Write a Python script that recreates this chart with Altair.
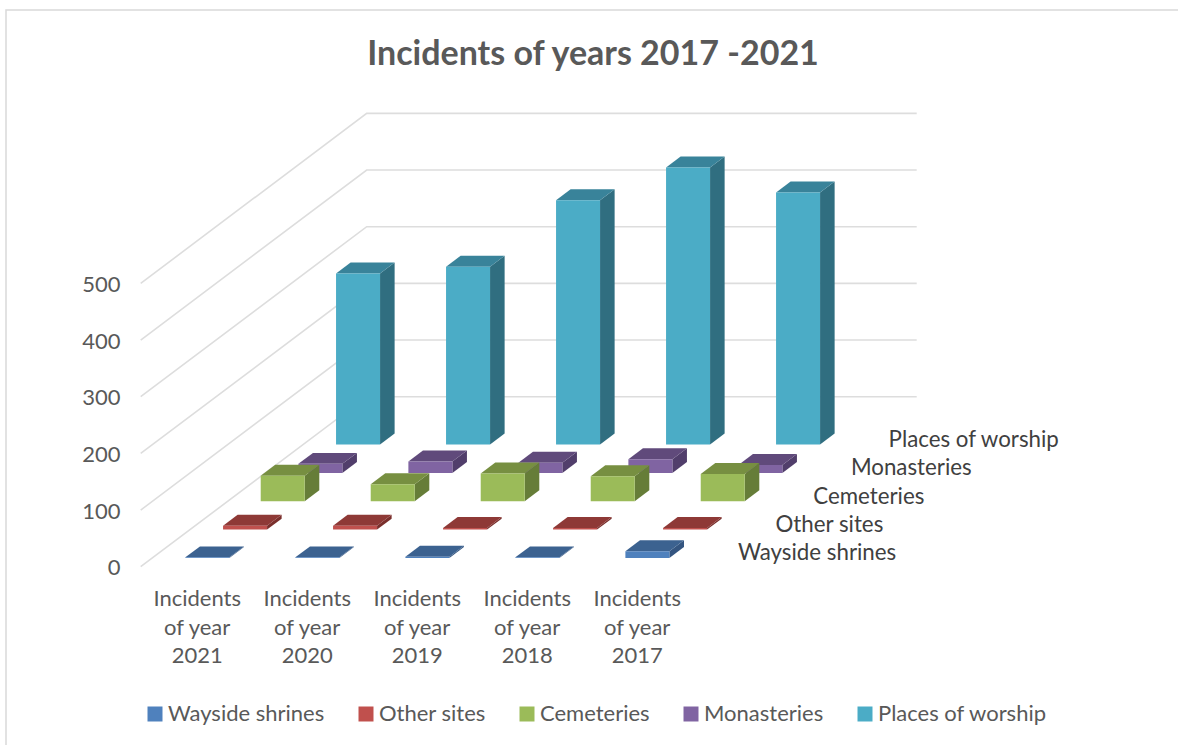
import altair as alt
import pandas as pd

# Incident counts per site type and year
YEARS = ["2021", "2020", "2019", "2018", "2017"]
SERIES = ["Wayside shrines", "Other sites", "Cemeteries", "Monasteries", "Places of worship"]
WAYSIDE = [1, 1, 2, 1, 12]
OTHER = [7, 7, 3, 3, 3]
CEMETERIES = [45, 30, 49, 44, 48]
MONASTERIES = [16, 20, 18, 24, 14]
WORSHIP = [302, 314, 431, 489, 445]
VALUES = [WAYSIDE, OTHER, CEMETERIES, MONASTERIES, WORSHIP]

FRONT = ["#4F81BD", "#C0504D", "#9BBB59", "#8064A2", "#4BACC6"]
TOP = ["#3C6290", "#8E3936", "#778F41", "#604A7B", "#39839A"]
SIDE = ["#345580", "#7A2F2C", "#667D38", "#513E6B", "#306E80"]

LEVELS = [0, 100, 200, 300, 400, 500]

# Oblique projection: one depth step moves right (in category widths) and up (in incident units)
DEPTH_X = 0.3424
DEPTH_Y = 50
WALL_DEPTH = 6
BAR_WIDTH = 0.40
BAR_DEPTH = 0.387
FONT = "Lato"
TEXT = "#595959"

LEFT, TOP_PAD = 128, 90
W, H = 1050, 655
x_scale = alt.Scale(domain=[-0.1155, 9.4297], nice=False, zero=False)
y_scale = alt.Scale(domain=[-314.6, 841.2], nice=False, zero=False)
X = alt.X("x:Q", scale=x_scale, axis=None, stack=None)
Y = alt.Y(
    "y:Q",
    scale=y_scale,
    stack=None,
    axis=alt.Axis(
        values=LEVELS, grid=False, ticks=False, domain=False, title=None,
        labelFont=FONT, labelFontSize=22, labelColor=TEXT, labelPadding=8, labelOffset=1,
    ),
)

# Back wall and left wall gridlines
grid_rows = []
for level in LEVELS:
    wall_x = WALL_DEPTH * DEPTH_X
    wall_y = level + WALL_DEPTH * DEPTH_Y
    for k, (gx, gy) in enumerate([(0, level), (wall_x, wall_y), (wall_x + 5, wall_y)]):
        grid_rows.append({"level": level, "k": k, "x": gx, "y": gy})

grid = alt.Chart(pd.DataFrame(grid_rows)).mark_line(color="#DDDDDD", strokeWidth=1.6).encode(
    x=X, y=Y, detail="level:N", order="k:Q"
)

color_scale = alt.Scale(domain=SERIES, range=FRONT)
legend = alt.Legend(
    orient="none", direction="horizontal", columns=5, title=None,
    legendX=16, legendY=613,
    symbolType="square", symbolSize=225, symbolStrokeWidth=0, symbolOpacity=1,
    labelFont=FONT, labelFontSize=22, labelColor=TEXT, labelOffset=2,
    columnPadding=30, labelLimit=300,
)

layers = [grid]

# Painter's order: rearmost series first
for s in range(len(SERIES) - 1, -1, -1):
    base = s + 0.31
    fronts, tops, sides = [], [], []
    for c, v in enumerate(VALUES[s]):
        x0 = c + (1 - BAR_WIDTH) / 2 + base * DEPTH_X
        x1 = x0 + BAR_WIDTH
        y0 = base * DEPTH_Y
        y1 = y0 + v
        sx = BAR_DEPTH * DEPTH_X
        sy = BAR_DEPTH * DEPTH_Y
        fronts.append({"series": SERIES[s], "x": x0, "x2": x1, "y": y0, "y2": y1})
        tops.append({"c": c, "y": y1, "x": x0, "x2": x1})
        tops.append({"c": c, "y": y1 + sy, "x": x0 + sx, "x2": x1 + sx})
        sides.append({"c": c, "x": x1, "y": y0, "y2": y1})
        sides.append({"c": c, "x": x1 + sx, "y": y0 + sy, "y2": y1 + sy})

    side_layer = alt.Chart(pd.DataFrame(sides)).mark_area(orient="vertical", color=SIDE[s]).encode(
        x=X, y=Y, y2="y2:Q", detail="c:N"
    )
    top_layer = alt.Chart(pd.DataFrame(tops)).mark_area(orient="horizontal", color=TOP[s]).encode(
        x=X, x2="x2:Q", y=Y, detail="c:N"
    )
    front_layer = alt.Chart(pd.DataFrame(fronts)).mark_rect().encode(
        x=X, x2="x2:Q", y=Y, y2="y2:Q",
        color=alt.Color("series:N", scale=color_scale, legend=legend),
    )
    layers += [side_layer, top_layer, front_layer]

# Series names along the depth axis
depth_labels = pd.DataFrame(
    {
        "name": SERIES,
        "x": [5 + (s + 0.31) * DEPTH_X for s in range(5)],
        "y": [(s + 0.31) * DEPTH_Y for s in range(5)],
    }
)
layers.append(
    alt.Chart(depth_labels).mark_text(
        align="left", baseline="middle", font=FONT, fontSize=22.3, color="#404040", dx=35.5, dy=-4.5
    ).encode(x=X, y=Y, text="name:N")
)

# Category labels under the floor
cat_labels = pd.DataFrame(
    {
        "name": [f"Incidents\nof year\n{y}" for y in YEARS],
        "x": [c + 0.5 for c in range(5)],
        "y": [-40] * 5,
    }
)
layers.append(
    alt.Chart(cat_labels).mark_text(
        align="center", baseline="top", font=FONT, fontSize=22, color=TEXT,
        lineBreak="\n", lineHeight=28.5, dx=1.5,
    ).encode(x=X, y=Y, text="name:N")
)

# Heading and chart frame, placed in pixels relative to the plot area
layers.append(
    alt.Chart(pd.DataFrame({"t": ["Incidents of years 2017 -2021"]})).mark_text(
        align="center", baseline="middle", font=FONT, fontSize=34, fontWeight="bold", color=TEXT
    ).encode(x=alt.value(593 - LEFT), y=alt.value(55 - TOP_PAD), text="t:N")
)
layers.append(
    alt.Chart(pd.DataFrame({"a": [0]})).mark_rect(
        fill="transparent", stroke="#D9D9D9", strokeWidth=1.5
    ).encode(
        x=alt.value(6 - LEFT), x2=alt.value(1200 - LEFT),
        y=alt.value(10 - TOP_PAD), y2=alt.value(760 - TOP_PAD),
    )
)

chart = (
    alt.layer(*layers)
    .properties(
        width=W,
        height=H,
        padding={"left": LEFT, "top": TOP_PAD, "right": 0, "bottom": 0},
        autosize=alt.AutoSizeParams(type="none"),
    )
    .configure_view(stroke=None)
)

chart.save("out.html", embed_options={"renderer": "svg", "actions": False})
